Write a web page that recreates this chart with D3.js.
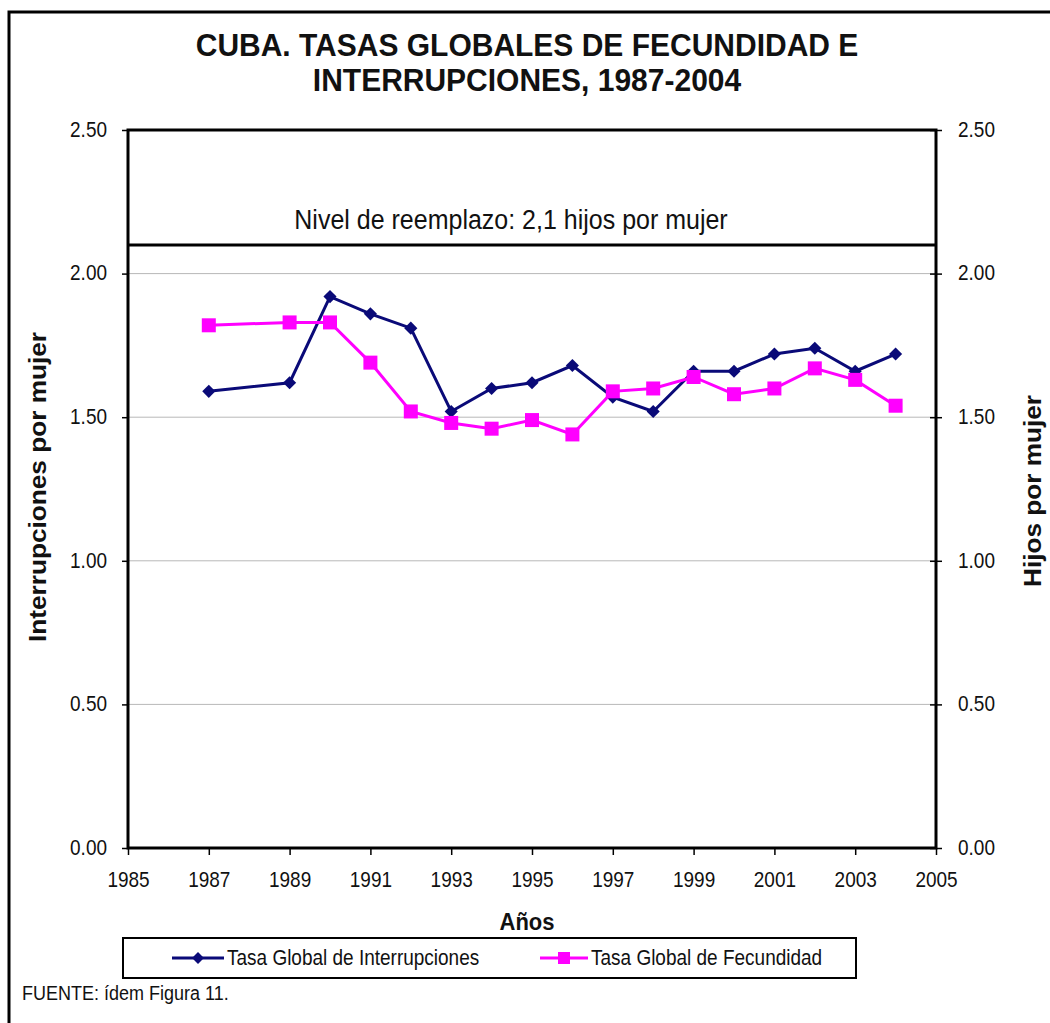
<!DOCTYPE html>
<html>
<head>
<meta charset="utf-8">
<script src="https://cdn.jsdelivr.net/npm/d3@7"></script>
<style>
  body { margin: 0; background: #fff; }
  text { font-family: "Liberation Sans", Arial, sans-serif; fill: #111; }
</style>
</head>
<body>
<div id="chart"></div>
<script>
// data (1988 is missing in the source)
const years = [1987, 1989, 1990, 1991, 1992, 1993, 1994, 1995, 1996, 1997, 1998, 1999, 2000, 2001, 2002, 2003, 2004];
const interrupciones = [1.59, 1.62, 1.92, 1.86, 1.81, 1.52, 1.60, 1.62, 1.68, 1.57, 1.52, 1.66, 1.66, 1.72, 1.74, 1.66, 1.72];
const fecundidad = [1.82, 1.83, 1.83, 1.69, 1.52, 1.48, 1.46, 1.49, 1.44, 1.59, 1.60, 1.64, 1.58, 1.60, 1.67, 1.63, 1.54];
const yearTicks = [1985, 1987, 1989, 1991, 1993, 1995, 1997, 1999, 2001, 2003, 2005];
const valueTicks = [0, 0.5, 1.0, 1.5, 2.0, 2.5];
const reemplazo = 2.1;
const seriesNames = ['Tasa Global de Interrupciones', 'Tasa Global de Fecundidad'];

const W = 1050, H = 1023;
const margin = { top: 130, right: 114, bottom: 175, left: 128 };
const stretch = 1.12; // glyphs in the source look a bit taller than Arial

const svg = d3.select('#chart').append('svg')
  .attr('width', W)
  .attr('height', H);

// outer frame (only top and left edges fall inside the picture)
svg.append('rect')
  .attr('x', 9).attr('y', 12)
  .attr('width', 1200).attr('height', 1200)
  .attr('fill', 'none')
  .attr('stroke', '#000')
  .attr('stroke-width', 3);

const x = d3.scaleLinear().domain([1985, 2005]).range([margin.left, W - margin.right]);
const y = d3.scaleLinear().domain([0, 2.5]).range([H - margin.bottom, margin.top]);

// helper for horizontal text, slightly stretched vertically
function label(tx, ty, str, size, opts = {}) {
  const k = opts.stretch || stretch;
  const g = svg.append('g').attr('transform', `translate(${tx},${ty}) scale(1,${k})`);
  return g.append('text')
    .attr('text-anchor', opts.anchor || 'middle')
    .attr('font-size', size)
    .attr('font-weight', opts.bold ? 'bold' : 'normal')
    .text(str);
}

// title
label(527, 56, 'CUBA. TASAS GLOBALES DE FECUNDIDAD E', 30, { bold: true, stretch: 1.04 });
label(527, 91, 'INTERRUPCIONES, 1987-2004', 30, { bold: true, stretch: 1.04 });

// gridlines
svg.append('g')
  .selectAll('line')
  .data(valueTicks.filter(d => d > 0 && d < 2.5))
  .enter()
  .append('line')
  .attr('x1', x(1985)).attr('x2', x(2005))
  .attr('y1', d => y(d)).attr('y2', d => y(d))
  .attr('stroke', '#b8b8b8')
  .attr('stroke-width', 1);

// axes
const fmt = d3.format('.2f');
const leftAxis = svg.append('g')
  .attr('transform', `translate(${margin.left},0)`)
  .call(d3.axisLeft(y).tickValues(valueTicks).tickFormat(fmt).tickSize(6).tickPadding(15));
const rightAxis = svg.append('g')
  .attr('transform', `translate(${W - margin.right},0)`)
  .call(d3.axisRight(y).tickValues(valueTicks).tickFormat(fmt).tickSize(6).tickPadding(16));
rightAxis.selectAll('.tick line').attr('x1', -6);
const bottomAxis = svg.append('g')
  .attr('transform', `translate(0,${H - margin.bottom})`)
  .call(d3.axisBottom(x).tickValues(yearTicks).tickFormat(d3.format('d')).tickSize(7).tickPadding(14));

[leftAxis, rightAxis, bottomAxis].forEach(ax => {
  ax.select('.domain').remove();
  ax.selectAll('.tick line').attr('stroke', '#000').attr('stroke-width', 1.5);
  ax.selectAll('.tick text')
    .attr('font-family', '"Liberation Sans", Arial, sans-serif')
    .attr('font-size', 19)
    .attr('fill', '#111')
    .attr('transform', `scale(1,${stretch})`);
});
leftAxis.selectAll('.tick text').attr('dy', '0.3em');
rightAxis.selectAll('.tick text').attr('dy', '0.3em');

// plot frame
svg.append('rect')
  .attr('x', x(1985)).attr('y', y(2.5))
  .attr('width', x(2005) - x(1985)).attr('height', y(0) - y(2.5))
  .attr('fill', 'none')
  .attr('stroke', '#000')
  .attr('stroke-width', 3);

// replacement level
svg.append('line')
  .attr('x1', x(1985)).attr('x2', x(2005))
  .attr('y1', y(reemplazo)).attr('y2', y(reemplazo))
  .attr('stroke', '#000')
  .attr('stroke-width', 3);
label(511, 229, 'Nivel de reemplazo: 2,1 hijos por mujer', 25);

// series
const line = d3.line().x(d => x(d[0])).y(d => y(d[1]));
const navy = '#0a0a78', magenta = '#ff00ff';
const ptsI = years.map((yr, i) => [yr, interrupciones[i]]);
const ptsF = years.map((yr, i) => [yr, fecundidad[i]]);

svg.append('path').datum(ptsI)
  .attr('d', line).attr('fill', 'none')
  .attr('stroke', navy).attr('stroke-width', 3);
svg.append('g').selectAll('path')
  .data(ptsI).enter().append('path')
  .attr('d', d3.symbol(d3.symbolDiamond2, 110))
  .attr('transform', d => `translate(${x(d[0])},${y(d[1])})`)
  .attr('fill', navy);

svg.append('path').datum(ptsF)
  .attr('d', line).attr('fill', 'none')
  .attr('stroke', magenta).attr('stroke-width', 3);
svg.append('g').selectAll('rect')
  .data(ptsF).enter().append('rect')
  .attr('x', d => x(d[0]) - 7).attr('y', d => y(d[1]) - 7)
  .attr('width', 14).attr('height', 14)
  .attr('fill', magenta);

// axis titles
label(527, 930, 'Años', 22, { bold: true });
svg.append('text')
  .attr('transform', 'translate(38,487) rotate(-90)')
  .attr('text-anchor', 'middle').attr('dy', '0.35em')
  .attr('font-size', 23).attr('font-weight', 'bold')
  .attr('textLength', 310).attr('lengthAdjust', 'spacingAndGlyphs')
  .text('Interrupciones por mujer');
svg.append('text')
  .attr('transform', 'translate(1033,491) rotate(-90)')
  .attr('text-anchor', 'middle').attr('dy', '0.35em')
  .attr('font-size', 23).attr('font-weight', 'bold')
  .attr('textLength', 192).attr('lengthAdjust', 'spacingAndGlyphs')
  .text('Hijos por mujer');

// legend
const lg = svg.append('g');
lg.append('rect')
  .attr('x', 123).attr('y', 938)
  .attr('width', 733).attr('height', 40)
  .attr('fill', '#fff')
  .attr('stroke', '#000')
  .attr('stroke-width', 2);
const ly = 958;
lg.append('line').attr('x1', 172).attr('x2', 224).attr('y1', ly).attr('y2', ly)
  .attr('stroke', navy).attr('stroke-width', 3);
lg.append('path').attr('d', d3.symbol(d3.symbolDiamond2, 90))
  .attr('transform', `translate(198,${ly})`).attr('fill', navy);
lg.append('text').attr('transform', `translate(227,${ly + 7}) scale(1,${stretch})`)
  .attr('font-size', 19).text(seriesNames[0]);
lg.append('line').attr('x1', 540).attr('x2', 588).attr('y1', ly).attr('y2', ly)
  .attr('stroke', magenta).attr('stroke-width', 3);
lg.append('rect').attr('x', 558).attr('y', ly - 6).attr('width', 12).attr('height', 12)
  .attr('fill', magenta);
lg.append('text').attr('transform', `translate(591,${ly + 7}) scale(1,${stretch})`)
  .attr('font-size', 19).text(seriesNames[1]);

// source note
label(22, 1000, 'FUENTE: ídem Figura 11.', 18, { anchor: 'start' });
</script>
</body>
</html>
